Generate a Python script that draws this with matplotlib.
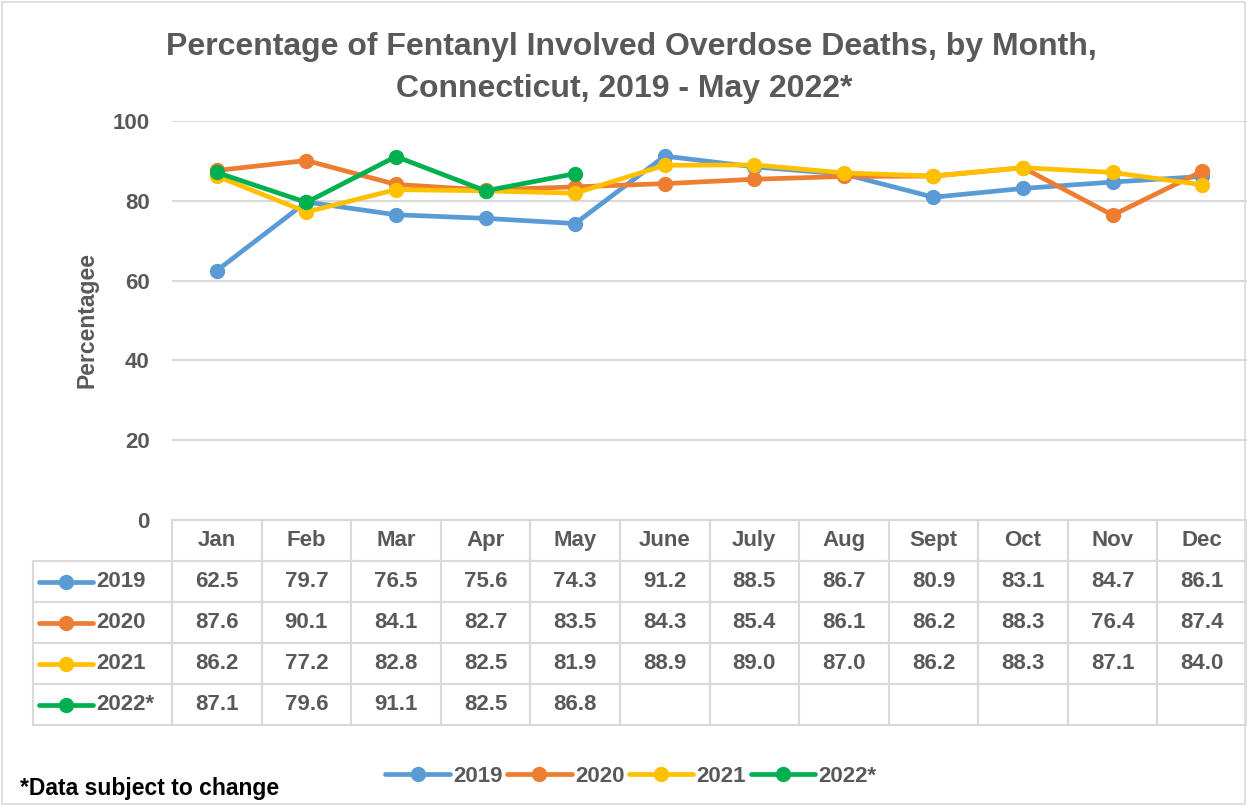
import matplotlib.pyplot as plt
from matplotlib.lines import Line2D
from matplotlib.patches import Rectangle
import numpy as np

plt.rcParams['font.family'] = ['Liberation Sans', 'DejaVu Sans']

#################   data   #################

months = ['Jan', 'Feb', 'Mar', 'Apr', 'May', 'June', 'July', 'Aug', 'Sept', 'Oct', 'Nov', 'Dec']
series = ['2019', '2020', '2021', '2022*']
v2019 = [62.5, 79.7, 76.5, 75.6, 74.3, 91.2, 88.5, 86.7, 80.9, 83.1, 84.7, 86.1]
v2020 = [87.6, 90.1, 84.1, 82.7, 83.5, 84.3, 85.4, 86.1, 86.2, 88.3, 76.4, 87.4]
v2021 = [86.2, 77.2, 82.8, 82.5, 81.9, 88.9, 89.0, 87.0, 86.2, 88.3, 87.1, 84.0]
v2022 = [87.1, 79.6, 91.1, 82.5, 86.8]
yticks = [0, 20, 40, 60, 80, 100]

colors = ['#5B9BD5', '#ED7D31', '#FFC000', '#00B050']
text_col = '#595959'
grid_col = '#D9D9D9'

#################   figure   #################

W, H = 1247, 807
fig = plt.figure(figsize=(W / 100, H / 100), dpi=100)
fig.patches.append(Rectangle((0.002, 0.004), 0.996, 0.994, transform=fig.transFigure,
                             fill=False, edgecolor=grid_col, linewidth=1.2))

ax_l, ax_r = 172 / W, 1.0
ax_b, ax_t = 1 - 520 / H, 1 - 121 / H
ax = fig.add_axes([ax_l, ax_b, ax_r - ax_l, ax_t - ax_b])

x = np.arange(len(months))
all_vals = [v2019, v2020, v2021, v2022]
handles = []
for name, vals, c in zip(series, all_vals, colors):
    h, = ax.plot(x[:len(vals)], vals, color=c, lw=3.4, marker='o', ms=10,
                 solid_capstyle='round', label=name, zorder=3)
    handles.append(h)

ax.set_xlim(-0.5, len(months) - 0.5)
ax.set_ylim(0, 100)
ax.set_yticks(yticks)
ax.set_yticklabels([str(t) for t in yticks], fontsize=16, color=text_col, fontweight='bold')
ax.set_xticks([])
ax.tick_params(axis='y', length=0, pad=16)
ax.grid(axis='y', color=grid_col, lw=1.5)
ax.set_axisbelow(True)
for s in ax.spines.values():
    s.set_visible(False)
ax.set_ylabel('Percentagee', fontsize=16.5, color=text_col, fontweight='bold', labelpad=10)

#################   data table   #################

ax_w_px = W * (ax_r - ax_l)
ax_h_px = H * (ax_t - ax_b)
lab_w = (172 - 33) / ax_w_px
tab_h = (725 - 520) / ax_h_px
row_h = tab_h / 5

cell_text = []
for vals in all_vals:
    cell_text.append([f'{v:.1f}' for v in vals] + [''] * (len(months) - len(vals)))

# bbox only covers the month columns, the label column hangs off to the left
tbl = ax.table(cellText=cell_text, colLabels=months,
               colWidths=[1 / len(months)] * len(months),
               cellLoc='center', bbox=[0, -tab_h, 1, tab_h])
cell_hgt = tbl[(1, 0)].get_height()
for r in range(1, len(series) + 1):
    tbl.add_cell(r, -1, width=lab_w, height=cell_hgt, text='')
tbl.auto_set_font_size(False)
for (r, c), cell in tbl.get_celld().items():
    cell.set_edgecolor(grid_col)
    cell.set_linewidth(1.5)
    cell.get_text().set_fontsize(16)
    cell.get_text().set_color(text_col)
    cell.get_text().set_fontweight('bold')

# legend keys inside the row label cells
for i, (name, c) in enumerate(zip(series, colors)):
    yc = -row_h * (1.5 + i)
    x0 = -lab_w + 6 / ax_w_px
    x1 = -lab_w + 60 / ax_w_px
    ax.add_line(Line2D([x0, x1], [yc, yc], transform=ax.transAxes, color=c, lw=3.4,
                       solid_capstyle='round', clip_on=False))
    ax.add_line(Line2D([(x0 + x1) / 2], [yc], transform=ax.transAxes, color=c,
                       marker='o', ms=10, clip_on=False))
    ax.text(x1 + 3 / ax_w_px, yc, name, transform=ax.transAxes, ha='left', va='center',
            fontsize=16, color=text_col, fontweight='bold')

#################   title, legend, note   #################

fig.text(0.506, 1 - 47 / H, 'Percentage of Fentanyl Involved Overdose Deaths, by Month,',
         ha='center', va='center', fontsize=23, color=text_col, fontweight='bold')
fig.text(0.501, 1 - 89 / H, 'Connecticut, 2019 - May 2022*',
         ha='center', va='center', fontsize=23, color=text_col, fontweight='bold')

leg = fig.legend(handles=handles, loc='center', ncol=4, bbox_to_anchor=(0.506, 1 - 776 / H),
                 frameon=False, prop={'size': 16, 'weight': 'bold'}, handlelength=2.9,
                 columnspacing=0.2, handletextpad=0.15)
for t in leg.get_texts():
    t.set_color(text_col)

fig.text(20 / W, 1 - 789 / H, '*Data subject to change', ha='left', va='center',
         fontsize=16.5, color='black', fontweight='bold')

fig.savefig('out.png', dpi=100)
